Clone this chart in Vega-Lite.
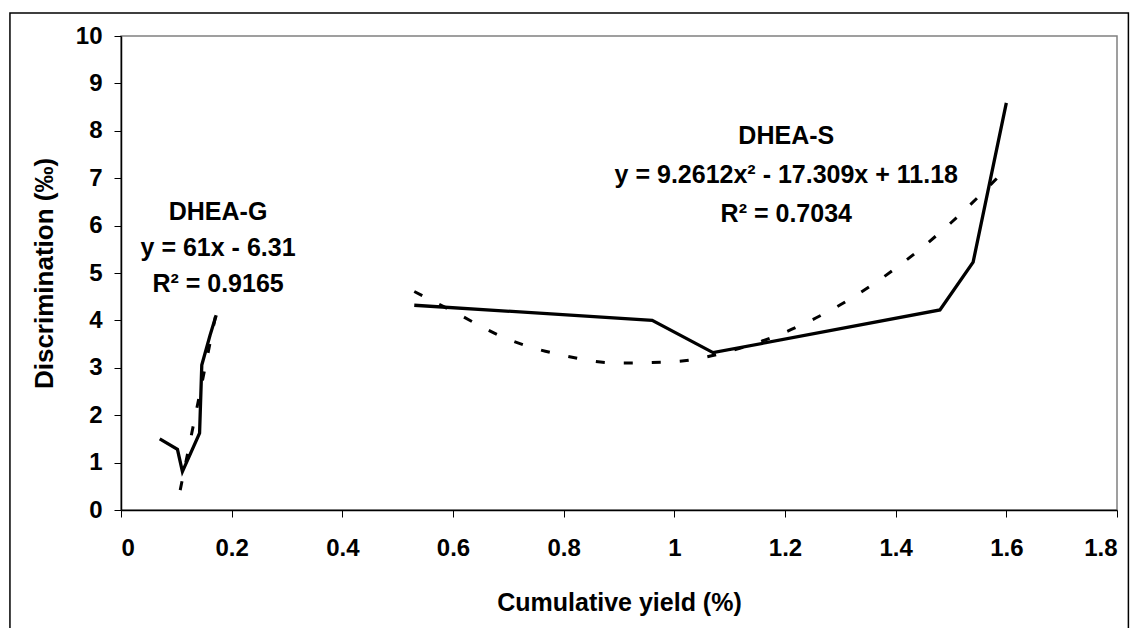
{
  "$schema": "https://vega.github.io/schema/vega-lite/v6.json",
  "width": 996,
  "height": 474,
  "autosize": {"type": "none"},
  "padding": {"left": 121, "top": 36, "right": 21, "bottom": 118},
  "background": "white",
  "config": {
    "view": {"stroke": "#808080", "strokeWidth": 1.5},
    "font": "Liberation Sans",
    "axis": {
      "grid": false,
      "domainColor": "black",
      "domainWidth": 1.5,
      "tickColor": "black",
      "tickWidth": 1,
      "tickSize": 7,
      "labelFont": "Liberation Sans",
      "labelFontWeight": "bold",
      "labelFontSize": 24,
      "labelColor": "black",
      "titleFont": "Liberation Sans",
      "titleFontWeight": "bold",
      "titleFontSize": 25,
      "titleColor": "black"
    }
  },
  "datasets": {
    "lines": [
      {"series": "DHEA-G", "kind": "data", "x": 0.07, "y": 1.5},
      {"series": "DHEA-G", "kind": "data", "x": 0.102, "y": 1.28},
      {"series": "DHEA-G", "kind": "data", "x": 0.111, "y": 0.81},
      {"series": "DHEA-G", "kind": "data", "x": 0.142, "y": 1.62},
      {"series": "DHEA-G", "kind": "data", "x": 0.146, "y": 3.06},
      {"series": "DHEA-G", "kind": "data", "x": 0.161, "y": 3.69},
      {"series": "DHEA-G", "kind": "data", "x": 0.172, "y": 4.11},
      {"series": "DHEA-S", "kind": "data", "x": 0.53, "y": 4.32},
      {"series": "DHEA-S", "kind": "data", "x": 0.96, "y": 4.0},
      {"series": "DHEA-S", "kind": "data", "x": 1.07, "y": 3.32},
      {"series": "DHEA-S", "kind": "data", "x": 1.48, "y": 4.22},
      {"series": "DHEA-S", "kind": "data", "x": 1.54, "y": 5.23},
      {"series": "DHEA-S", "kind": "data", "x": 1.6, "y": 8.59},
      {"series": "DHEA-G fit", "kind": "fit", "x": 0.107, "y": 0.42},
      {"series": "DHEA-G fit", "kind": "fit", "x": 0.171, "y": 4.1},
      {"series": "DHEA-S fit", "kind": "fit", "x": 0.53, "y": 4.61},
      {"series": "DHEA-S fit", "kind": "fit", "x": 0.6, "y": 4.19},
      {"series": "DHEA-S fit", "kind": "fit", "x": 0.7, "y": 3.6},
      {"series": "DHEA-S fit", "kind": "fit", "x": 0.8, "y": 3.26},
      {"series": "DHEA-S fit", "kind": "fit", "x": 0.9, "y": 3.1},
      {"series": "DHEA-S fit", "kind": "fit", "x": 1.0, "y": 3.13},
      {"series": "DHEA-S fit", "kind": "fit", "x": 1.1, "y": 3.35},
      {"series": "DHEA-S fit", "kind": "fit", "x": 1.2, "y": 3.75},
      {"series": "DHEA-S fit", "kind": "fit", "x": 1.3, "y": 4.33},
      {"series": "DHEA-S fit", "kind": "fit", "x": 1.4, "y": 5.1},
      {"series": "DHEA-S fit", "kind": "fit", "x": 1.5, "y": 6.06},
      {"series": "DHEA-S fit", "kind": "fit", "x": 1.6, "y": 7.2}
    ],
    "notes": [
      {"label": "DHEA-G", "x": 0.1754, "y": 6.12},
      {"label": "y = 61x - 6.31", "x": 0.1754, "y": 5.36},
      {"label": "R² = 0.9165", "x": 0.1754, "y": 4.6},
      {"label": "DHEA-S", "x": 1.2023, "y": 7.72},
      {"label": "y = 9.2612x² - 17.309x + 11.18", "x": 1.2023, "y": 6.9},
      {"label": "R² = 0.7034", "x": 1.2023, "y": 6.08}
    ],
    "frame": [{"x0": -0.2007, "x1": 1.8206, "y0": 10.485, "y1": -3}]
  },
  "layer": [
    {
      "data": {"name": "frame"},
      "mark": {"type": "rect", "fill": null, "stroke": "black", "strokeWidth": 1.5, "clip": false},
      "encoding": {
        "x": {"field": "x0", "type": "quantitative", "scale": {"domain": [0, 1.8]}},
        "x2": {"field": "x1"},
        "y": {"field": "y0", "type": "quantitative", "scale": {"domain": [0, 10]}},
        "y2": {"field": "y1"}
      }
    },
    {
      "data": {"name": "lines"},
      "transform": [{"filter": "datum.kind === 'fit'"}],
      "mark": {"type": "line", "color": "black", "strokeWidth": 3, "strokeDash": [9, 19], "interpolate": "monotone"},
      "encoding": {
        "x": {"field": "x", "type": "quantitative"},
        "y": {"field": "y", "type": "quantitative"},
        "detail": {"field": "series"}
      }
    },
    {
      "data": {"name": "lines"},
      "transform": [{"filter": "datum.kind === 'data'"}],
      "mark": {"type": "line", "color": "black", "strokeWidth": 3.3},
      "encoding": {
        "x": {
          "field": "x", "type": "quantitative",
          "scale": {"domain": [0, 1.8], "nice": false, "zero": false},
          "axis": {
            "title": "Cumulative yield (%)",
            "values": [0, 0.2, 0.4, 0.6, 0.8, 1, 1.2, 1.4, 1.6, 1.8],
            "format": "~g",
            "labelPadding": 19,
            "titlePadding": 30
          }
        },
        "y": {
          "field": "y", "type": "quantitative",
          "scale": {"domain": [0, 10], "nice": false, "zero": false},
          "axis": {
            "title": "Discrimination (‰)",
            "titleFontSize": 26,
            "values": [0, 1, 2, 3, 4, 5, 6, 7, 8, 9, 10],
            "format": "d",
            "labelPadding": 12,
            "titlePadding": 18
          }
        },
        "detail": {"field": "series"}
      }
    },
    {
      "data": {"name": "notes"},
      "mark": {"type": "text", "font": "Liberation Sans", "fontWeight": "bold", "fontSize": 25, "color": "black", "align": "center", "baseline": "alphabetic"},
      "encoding": {
        "x": {"field": "x", "type": "quantitative"},
        "y": {"field": "y", "type": "quantitative"},
        "text": {"field": "label"}
      }
    }
  ]
}
